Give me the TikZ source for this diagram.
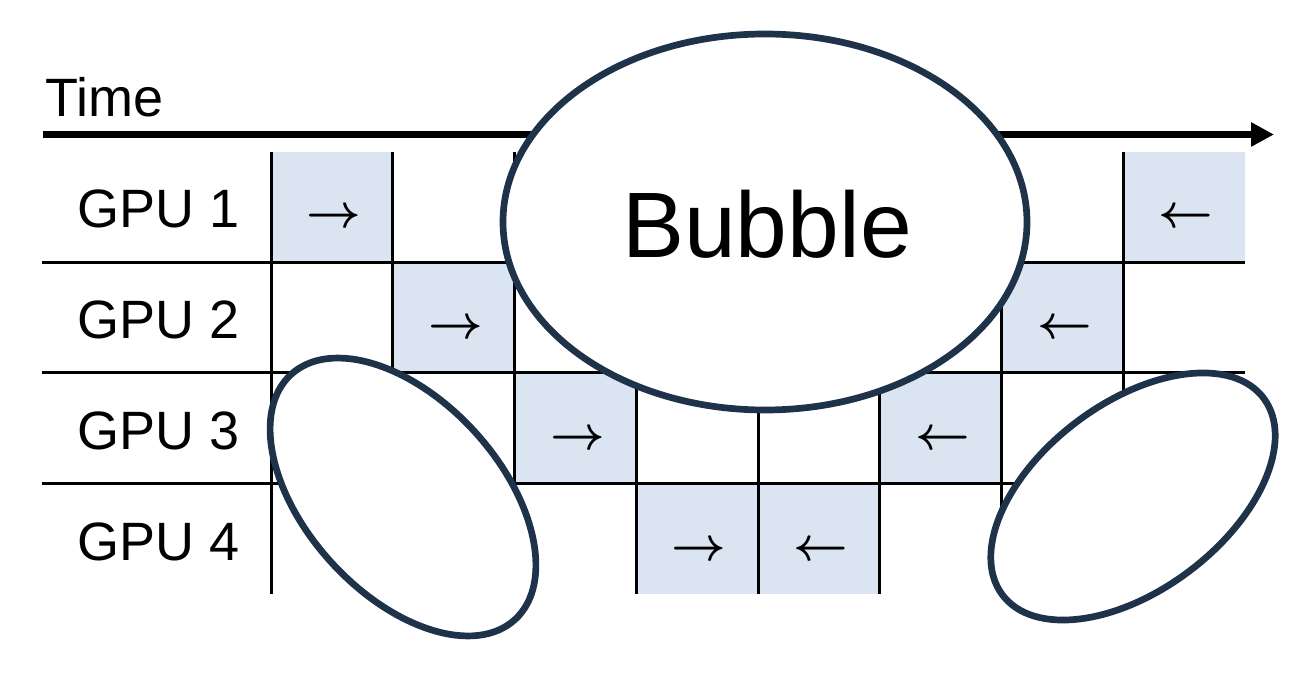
\documentclass[tikz,border=0pt]{standalone}
\usepackage{fontspec}
\setmainfont{Liberation Sans}
\usetikzlibrary{arrows.meta,shapes.geometric}
\definecolor{cellblue}{RGB}{218,229,241}
\definecolor{navy}{RGB}{30,50,74}
\begin{document}
\begin{tikzpicture}[x=1pt,y=-1pt,
  gridline/.style={line width=3pt, black},
  lbl/.style={font=\fontsize{54}{60}\selectfont, inner sep=0pt},
  arr/.style={scale=4.75, inner sep=0pt, anchor=base, font=\boldmath},
  blob/.style={draw=navy, line width=6.7pt, fill=white}]
\useasboundingbox (0,0) rectangle (1310,676);
% filled cells
\foreach \c/\r in {1/1,8/1,2/2,7/2,3/3,6/3,4/4,5/4} {
  \fill[cellblue] ({271+(\c-1)*121.75}, {152+(\r-1)*110.5}) rectangle ++(121.75,110.5);
}
% grid lines
\foreach \k in {0,...,7} {
  \draw[gridline] ({271+\k*121.75},152) -- ({271+\k*121.75},594);
}
\foreach \y in {262.5,373,483.5} {
  \draw[gridline] (42,\y) -- (1245,\y);
}
% time axis
\coordinate (tstart) at (43,134.5);
\coordinate (tend) at (1274,134.5);
\draw[line width=7pt, -{Triangle[length=23pt,width=23pt]}] (tstart) -- (tend);
\node[lbl, anchor=base west] (time) at (45,117) {Time};
% GPU labels
\node[lbl, anchor=base east] (g1) at (240,228) {GPU 1};
\node[lbl, anchor=base east] (g2) at (240,338.5) {GPU 2};
\node[lbl, anchor=base east] (g3) at (240,449.5) {GPU 3};
\node[lbl, anchor=base east] (g4) at (240,560) {GPU 4};
% cell arrows
\node[arr] (a1) at (333.9,228) {$\rightarrow$};
\node[arr] (a2) at (455.6,338.5) {$\rightarrow$};
\node[arr] (a3) at (577.4,449.5) {$\rightarrow$};
\node[arr] (a4) at (699.1,560) {$\rightarrow$};
\node[arr] (a5) at (820.9,560) {$\leftarrow$};
\node[arr] (a6) at (942.6,449.5) {$\leftarrow$};
\node[arr] (a7) at (1064.4,338.5) {$\leftarrow$};
\node[arr] (a8) at (1186.1,228) {$\leftarrow$};
% bubbles
\draw[blob, rotate around={-47.6:(403,497)}] (403,497) ellipse [x radius=166pt, y radius=97pt];
\draw[blob, rotate around={37:(1133,496.5)}] (1133,496.5) ellipse [x radius=163.5pt, y radius=93.5pt];
\node[blob, ellipse, minimum width=524pt, minimum height=376pt, inner sep=0pt] (bubble) at (765,222) {};
\node[font=\fontsize{93}{100}\selectfont, anchor=base, inner sep=0pt] (bubbletxt) at (767,258) {Bubble};
\end{tikzpicture}
\end{document}
